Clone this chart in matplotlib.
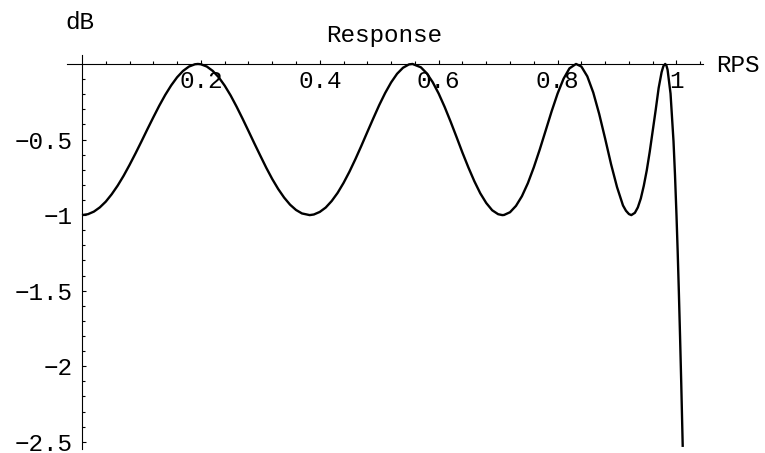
import matplotlib
matplotlib.use("Agg")
import matplotlib.pyplot as plt

# frequency (rad/s) and gain (dB) of the filter response
rps = [0.00, 0.01, 0.02, 0.03, 0.04, 0.05, 0.06, 0.07, 0.08, 0.09,
       0.10, 0.11, 0.12, 0.13, 0.14, 0.15, 0.16, 0.17, 0.18, 0.19,
       0.195, 0.20, 0.21, 0.22, 0.23, 0.24, 0.25, 0.26, 0.27, 0.28,
       0.29, 0.30, 0.31, 0.32, 0.33, 0.34, 0.35, 0.36, 0.37, 0.383,
       0.39, 0.40, 0.41, 0.42, 0.43, 0.44, 0.45, 0.46, 0.47, 0.48,
       0.49, 0.50, 0.51, 0.52, 0.53, 0.54, 0.55, 0.556, 0.57, 0.58,
       0.59, 0.60, 0.61, 0.62, 0.63, 0.64, 0.65, 0.66, 0.67, 0.68,
       0.69, 0.70, 0.707, 0.71, 0.72, 0.73, 0.74, 0.75, 0.76, 0.77,
       0.78, 0.79, 0.80, 0.81, 0.82, 0.831, 0.84, 0.85, 0.86, 0.87,
       0.88, 0.89, 0.90, 0.91, 0.915, 0.92, 0.924, 0.93, 0.935, 0.94,
       0.945, 0.95, 0.955, 0.96, 0.965, 0.97, 0.975, 0.978, 0.981, 0.983,
       0.985, 0.99, 0.995, 0.9975, 1.000, 1.002, 1.004, 1.006, 1.008, 1.010,
       1.0105]
gain_db = [-1.000, -0.994, -0.977, -0.949, -0.911, -0.862, -0.805, -0.740, -0.668, -0.592,
           -0.513, -0.432, -0.353, -0.276, -0.205, -0.142, -0.088, -0.046, -0.017, -0.002,
           0.000, -0.002, -0.017, -0.046, -0.088, -0.143, -0.208, -0.282, -0.361, -0.443,
           -0.526, -0.607, -0.687, -0.761, -0.827, -0.884, -0.931, -0.966, -0.989, -1.000,
           -0.996, -0.979, -0.950, -0.907, -0.853, -0.787, -0.712, -0.629, -0.541, -0.450,
           -0.360, -0.272, -0.192, -0.122, -0.065, -0.025, -0.003, 0.000, -0.022, -0.062,
           -0.121, -0.196, -0.284, -0.381, -0.483, -0.587, -0.685, -0.776, -0.856, -0.920,
           -0.968, -0.994, -1.000, -0.999, -0.981, -0.939, -0.875, -0.789, -0.684, -0.566,
           -0.440, -0.313, -0.196, -0.098, -0.029, 0.000, -0.017, -0.082, -0.189, -0.331,
           -0.494, -0.664, -0.815, -0.936, -0.971, -0.993, -1.000, -0.985, -0.949, -0.890,
           -0.806, -0.704, -0.581, -0.443, -0.305, -0.159, -0.054, -0.014, 0.000, -0.010,
           -0.038, -0.196, -0.512, -0.735, -1.000, -1.241, -1.510, -1.802, -2.113, -2.448,
           -2.534]

x_ticks = [0.2, 0.4, 0.6, 0.8, 1.0]
x_tick_labels = ["0.2", "0.4", "0.6", "0.8", "1"]
y_ticks = [-0.5, -1.0, -1.5, -2.0, -2.5]
y_tick_labels = ["\u22120.5", "\u22121", "\u22121.5", "\u22122", "\u22122.5"]

W, H = 765, 453
FONT = ["Liberation Mono", "DejaVu Sans Mono"]
FS = 17.5

fig = plt.figure(figsize=(W / 100, H / 100), dpi=100)
fig.patch.set_facecolor("white")

# axes box in pixels: x 67..703, y 55..449 (from top)
x0, x1 = 67.0, 703.0
ytop, ybot = 54.9, 448.6
ax = fig.add_axes([x0 / W, 1 - ybot / H, (x1 - x0) / W, (ybot - ytop) / H])
ax.patch.set_visible(False)
ax.set_xlim(-0.0252, 1.0446)
ax.set_ylim(-2.545, 0.06)

ax.plot(rps, gain_db, color="black", lw=1.7, solid_joinstyle="round",
        solid_capstyle="butt", clip_on=False)

for side in ("top", "right"):
    ax.spines[side].set_visible(False)
ax.spines["left"].set_position(("data", 0))
ax.spines["bottom"].set_position(("data", 0))
for side in ("left", "bottom"):
    ax.spines[side].set_linewidth(0.8)

ax.set_xticks(x_ticks)
ax.set_xticklabels(x_tick_labels, family=FONT, fontsize=FS)
ax.set_xticks([round(0.04 * k, 2) for k in range(1, 27) if k % 5], minor=True)
ax.set_yticks(y_ticks)
ax.set_yticklabels(y_tick_labels, family=FONT, fontsize=FS)
ax.set_yticks([round(-0.1 * k, 1) for k in range(1, 26) if k % 5], minor=True)

ax.tick_params(axis="both", which="both", direction="in", width=0.8, color="black")
ax.tick_params(axis="both", which="major", length=3.2)
ax.tick_params(axis="both", which="minor", length=2.0)
ax.tick_params(axis="x", which="major", pad=4.5)
ax.tick_params(axis="y", which="major", pad=7)

fig.text(65 / W, 1 - 29 / H, "dB", family=FONT, fontsize=FS, ha="left", va="baseline")
fig.text(384 / W, 1 - 41.7 / H, "Response", family=FONT, fontsize=FS,
         ha="center", va="baseline")
fig.text(716 / W, 1 - 71.7 / H, "RPS", family=FONT, fontsize=FS, ha="left", va="baseline")

fig.savefig("out.png", dpi=100)
